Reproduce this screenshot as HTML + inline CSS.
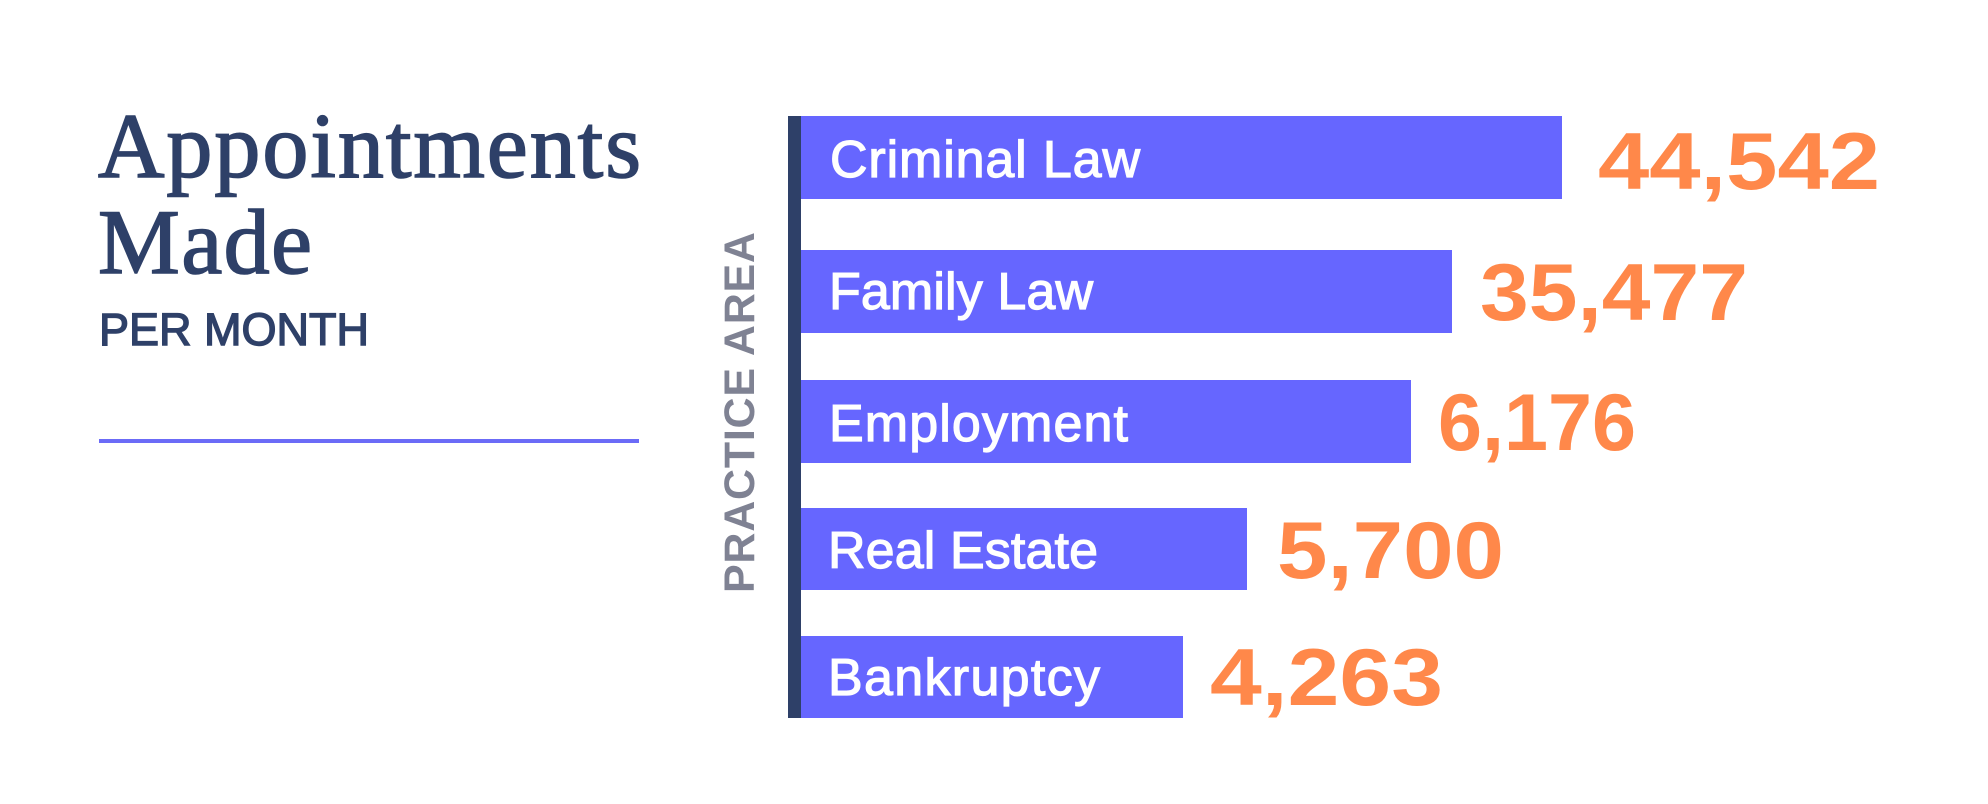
<!DOCTYPE html>
<html>
<head>
<meta charset="utf-8">
<style>
  html, body { margin: 0; padding: 0; background: #ffffff; }
  body { width: 1988px; height: 804px; overflow: hidden; }
  svg { display: block; }
</style>
</head>
<body>
<svg width="1988" height="804" viewBox="0 0 1988 804" xmlns="http://www.w3.org/2000/svg">
  <rect x="0" y="0" width="1988" height="804" fill="#ffffff"/>

  <!-- Title block -->
  <g font-family="'Liberation Serif', serif" font-size="92" fill="#2e4068" stroke="#2e4068" stroke-width="1.6">
    <text x="98" y="177" textLength="543" lengthAdjust="spacing">Appointments</text>
    <text x="98" y="273" textLength="214" lengthAdjust="spacing">Made</text>
  </g>
  <text x="99" y="345" font-family="'Liberation Sans', sans-serif" font-size="45" fill="#2e4068" stroke="#2e4068" stroke-width="1.4" textLength="270" lengthAdjust="spacing">PER MONTH</text>
  <rect x="99" y="439" width="540" height="4" fill="#6b6bf7"/>

  <!-- Axis label -->
  <text transform="translate(754,593) rotate(-90)" font-family="'Liberation Sans', sans-serif" font-weight="bold" font-size="43" fill="#7f8293" textLength="361" lengthAdjust="spacing">PRACTICE AREA</text>

  <!-- Axis line -->
  <rect x="788" y="116" width="13" height="602" fill="#2e4068"/>

  <!-- Bars -->
  <g fill="#6666ff">
    <rect x="801" y="116" width="761" height="83"/>
    <rect x="801" y="250" width="651" height="83"/>
    <rect x="801" y="380" width="610" height="83"/>
    <rect x="801" y="508" width="446" height="82"/>
    <rect x="801" y="636" width="382" height="82"/>
  </g>

  <!-- Bar labels -->
  <g font-family="'Liberation Sans', sans-serif" font-size="52" fill="#ffffff" stroke="#ffffff" stroke-width="1.2">
    <text x="830" y="177" textLength="310" lengthAdjust="spacing">Criminal Law</text>
    <text x="829" y="309" textLength="264" lengthAdjust="spacing">Family Law</text>
    <text x="829" y="441" textLength="299" lengthAdjust="spacing">Employment</text>
    <text x="828" y="568" textLength="270" lengthAdjust="spacing">Real Estate</text>
    <text x="828" y="695" textLength="272" lengthAdjust="spacing">Bankruptcy</text>
  </g>

  <!-- Values -->
  <g font-family="'Liberation Sans', sans-serif" font-weight="bold" font-size="81" fill="#ff884a">
    <text x="1598" y="189" textLength="282" lengthAdjust="spacingAndGlyphs">44,542</text>
    <text x="1480" y="320" textLength="268" lengthAdjust="spacingAndGlyphs">35,477</text>
    <text x="1438" y="450" textLength="198" lengthAdjust="spacingAndGlyphs">6,176</text>
    <text x="1277" y="578" textLength="227" lengthAdjust="spacingAndGlyphs">5,700</text>
    <text x="1210" y="705" textLength="233" lengthAdjust="spacingAndGlyphs">4,263</text>
  </g>
</svg>
</body>
</html>
